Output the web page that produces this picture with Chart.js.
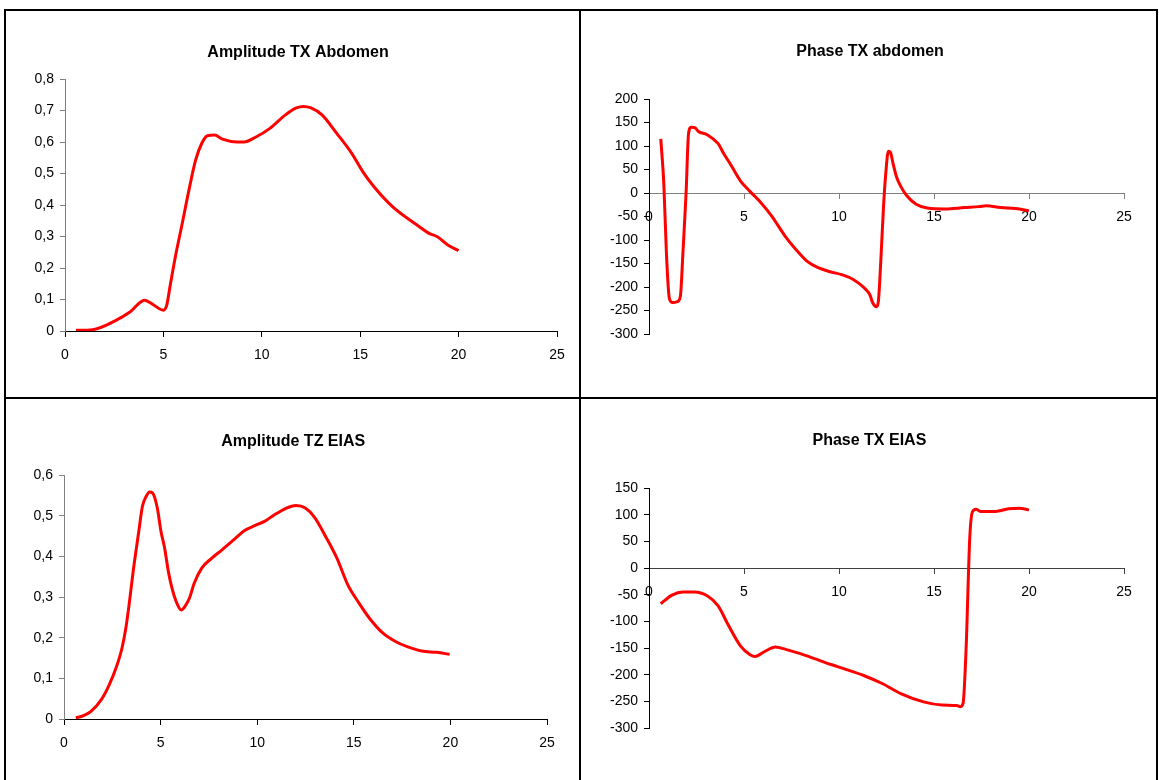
<!DOCTYPE html>
<html><head><meta charset="utf-8">
<script src="https://cdn.jsdelivr.net/npm/chart.js@4/dist/chart.umd.min.js"></script>
<style>
html,body{margin:0;padding:0;background:#fff;width:1159px;height:780px;overflow:hidden;}
.frame{position:absolute;left:4px;top:9px;width:1150px;height:800px;border:2px solid #000;}
.vline{position:absolute;left:579px;top:9px;width:2px;height:800px;background:#000;}
.hline{position:absolute;left:4px;top:397px;width:1154px;height:2px;background:#000;}
canvas{position:absolute;}
</style></head>
<body>
<div class="frame"></div><div class="vline"></div><div class="hline"></div>
<canvas id="c1" width="573" height="386" style="left:6px;top:11px"></canvas>
<canvas id="c2" width="574" height="386" style="left:582px;top:11px"></canvas>
<canvas id="c3" width="573" height="380" style="left:6px;top:400px"></canvas>
<canvas id="c4" width="574" height="380" style="left:582px;top:400px"></canvas>
<script>
// ---- data ----
const titles = ['Amplitude TX Abdomen', 'Phase TX abdomen', 'Amplitude TZ EIAS', 'Phase TX EIAS'];
const xTickLabels = ['0', '5', '10', '15', '20', '25'];
const yTicksAmpAbd = ['0', '0,1', '0,2', '0,3', '0,4', '0,5', '0,6', '0,7', '0,8'];
const yTicksPhaseAbd = ['-300', '-250', '-200', '-150', '-100', '-50', '0', '50', '100', '150', '200'];
const yTicksAmpEias = ['0', '0,1', '0,2', '0,3', '0,4', '0,5', '0,6'];
const yTicksPhaseEias = ['-300', '-250', '-200', '-150', '-100', '-50', '0', '50', '100', '150'];

const ampAbdX = [0.56, 1.4, 2.54, 3.3, 4.04, 4.4, 5.0, 5.17, 5.36, 5.64, 5.92, 6.3, 6.64, 6.95, 7.24, 7.6, 8.0, 8.74, 9.1, 9.68, 10.43, 11.2, 11.75, 12.12, 12.5, 13.06, 13.8, 14.57, 15.13, 15.7, 16.64, 17.76, 18.5, 18.9, 19.45, 20.0];
const ampAbdY = [0.002, 0.004, 0.032, 0.06, 0.098, 0.087, 0.066, 0.082, 0.15, 0.246, 0.33, 0.448, 0.543, 0.596, 0.62, 0.622, 0.609, 0.6, 0.6, 0.615, 0.644, 0.686, 0.708, 0.713, 0.708, 0.686, 0.628, 0.564, 0.506, 0.458, 0.395, 0.342, 0.31, 0.3, 0.273, 0.255];

const phaseAbdX = [0.62, 0.78, 0.92, 1.07, 1.25, 1.5, 1.65, 1.79, 1.95, 2.08, 2.22, 2.41, 2.6, 3.06, 3.64, 3.93, 4.32, 4.81, 5.3, 5.88, 6.46, 7.15, 7.73, 8.31, 8.9, 9.58, 10.16, 10.75, 11.33, 11.62, 11.78, 11.97, 12.07, 12.2, 12.34, 12.46, 12.6, 12.7, 12.85, 13.03, 13.28, 13.57, 14.06, 14.64, 15.6, 16.6, 17.37, 17.76, 18.5, 19.3, 20.0];
const phaseAbdY = [115, 19, -131, -224, -233, -231, -220, -124, -2, 126, 140, 139, 131, 124, 105, 84, 59, 26, 4, -20, -49, -91, -120, -145, -159, -168, -174, -184, -202, -216, -234, -242, -231, -145, -31, 41, 89, 87, 62, 34, 12, -6, -24, -32, -34, -31, -29, -27, -31, -33, -38];

const ampEiasX = [0.61, 1.0, 1.38, 1.95, 2.34, 2.72, 3.0, 3.2, 3.39, 3.58, 3.87, 4.06, 4.25, 4.44, 4.58, 4.83, 5.02, 5.21, 5.4, 5.59, 5.84, 6.07, 6.26, 6.49, 6.74, 7.13, 7.61, 8.18, 8.75, 9.33, 9.9, 10.38, 10.86, 11.44, 12.01, 12.49, 12.97, 13.54, 14.12, 14.69, 15.27, 15.84, 16.51, 17.18, 17.76, 18.52, 19.29, 19.96];
const ampEiasY = [0.003, 0.008, 0.018, 0.049, 0.084, 0.129, 0.174, 0.223, 0.289, 0.363, 0.461, 0.523, 0.547, 0.558, 0.556, 0.519, 0.461, 0.42, 0.363, 0.322, 0.285, 0.268, 0.277, 0.297, 0.334, 0.371, 0.394, 0.416, 0.439, 0.463, 0.476, 0.486, 0.501, 0.517, 0.525, 0.519, 0.496, 0.449, 0.396, 0.33, 0.285, 0.246, 0.211, 0.19, 0.178, 0.167, 0.164, 0.159];

const phaseEiasX = [0.62, 1.21, 1.79, 2.38, 3.06, 3.64, 4.13, 4.81, 5.3, 5.59, 6.07, 6.66, 7.24, 7.92, 8.8, 9.58, 10.36, 11.33, 12.3, 13.28, 14.45, 15.42, 16.2, 16.39, 16.53, 16.69, 16.88, 17.02, 17.21, 17.47, 18.24, 18.93, 19.5, 20.0];
const phaseEiasY = [-67, -51, -45, -45, -52, -71, -104, -146, -162, -166, -157, -148, -153, -160, -171, -181, -190, -202, -217, -236, -251, -257, -258, -260, -254, -151, 55, 105, 110, 106, 106, 111, 112, 109];

// ---- drawing ----
const FONT = '"Liberation Sans", Arial, sans-serif';
Chart.defaults.font.family = FONT;
Chart.defaults.color = '#000';

function makeChart(id, cfg) {
  const cv = document.getElementById(id);
  const cl = parseFloat(cv.style.left), ct = parseFloat(cv.style.top);
  const W = cv.width, H = cv.height;
  const a = cfg.area; // page coords of plot area
  const leftEdge = a.left - cfg.yBox;            // left edge of the y-axis box
  const rightBox = 2 * cfg.titleX - a.right - leftEdge; // spacer so the title centres where wanted
  const padLeft = leftEdge - cl;
  const padRight = cl + W - a.right - rightBox;
  const padBottom = ct + H - a.bottom;
  const tPadTop = cfg.titleY - ct - 10;
  const tPadBottom = a.top - ct - tPadTop - 20;
  const pts = cfg.xs.map((x, i) => ({x: x, y: cfg.ys[i]}));
  new Chart(cv, {
    type: 'scatter',
    data: {datasets: [{data: pts, showLine: true, borderColor: '#ff0000', borderWidth: 3,
      pointRadius: 0, pointHoverRadius: 0, fill: false, cubicInterpolationMode: 'monotone'}]},
    options: {
      responsive: false, animation: false, devicePixelRatio: 1,
      layout: {padding: {left: padLeft, right: padRight, top: 0, bottom: padBottom}},
      plugins: {
        legend: {display: false}, tooltip: {enabled: false},
        title: {display: true, text: cfg.title, color: '#000',
          font: {family: FONT, size: 16, weight: 'bold', lineHeight: '20px'},
          padding: {top: tPadTop, bottom: tPadBottom}}
      },
      scales: {
        x: {type: 'linear', position: {y: 0}, min: 0, max: 25,
          ticks: {stepSize: 5, padding: 10.5, font: {size: 14}, color: '#000', maxRotation: 0,
            callback: (v, i) => xTickLabels[i]},
          grid: {display: true, drawOnChartArea: false, drawTicks: true, tickLength: 5, color: cfg.xColor, lineWidth: 1},
          border: {display: true, color: cfg.xColor, width: 1}
        },
        y: {type: 'linear', position: 'left', min: cfg.yMin, max: cfg.yMax,
          afterFit: s => { s.width = cfg.yBox; },
          ticks: {stepSize: cfg.yStep, padding: 6, font: {size: 14}, color: '#000',
            callback: (v, i) => cfg.yLabels[i]},
          grid: {display: true, drawOnChartArea: false, drawTicks: true, tickLength: 5, color: cfg.yColor, lineWidth: 1},
          border: {display: true, color: cfg.yColor, width: 1}
        },
        spacer: {type: 'linear', position: 'right', axis: 'y', min: 0, max: 1, display: true,
          afterFit: s => { s.width = rightBox; },
          ticks: {display: false}, grid: {display: false}, border: {display: false}
        }
      }
    }
  });
}

makeChart('c1', {title: titles[0], xs: ampAbdX, ys: ampAbdY, yMin: 0, yMax: 0.8, yStep: 0.1, yLabels: yTicksAmpAbd,
  area: {left: 65, right: 557, top: 79, bottom: 331}, yBox: 40, titleX: 298, titleY: 52.5, xColor: '#000', yColor: '#808080'});
makeChart('c2', {title: titles[1], xs: phaseAbdX, ys: phaseAbdY, yMin: -300, yMax: 200, yStep: 50, yLabels: yTicksPhaseAbd,
  area: {left: 649, right: 1124, top: 99, bottom: 334}, yBox: 49, titleX: 870, titleY: 51.5, xColor: '#808080', yColor: '#000'});
makeChart('c3', {title: titles[2], xs: ampEiasX, ys: ampEiasY, yMin: 0, yMax: 0.6, yStep: 0.1, yLabels: yTicksAmpEias,
  area: {left: 64, right: 547, top: 475, bottom: 719}, yBox: 39, titleX: 293.2, titleY: 441.5, xColor: '#000', yColor: '#808080'});
makeChart('c4', {title: titles[3], xs: phaseEiasX, ys: phaseEiasY, yMin: -300, yMax: 150, yStep: 50, yLabels: yTicksPhaseEias,
  area: {left: 649, right: 1124, top: 488, bottom: 728}, yBox: 49, titleX: 869.4, titleY: 441, xColor: '#404040', yColor: '#000'});
</script>
</body></html>
